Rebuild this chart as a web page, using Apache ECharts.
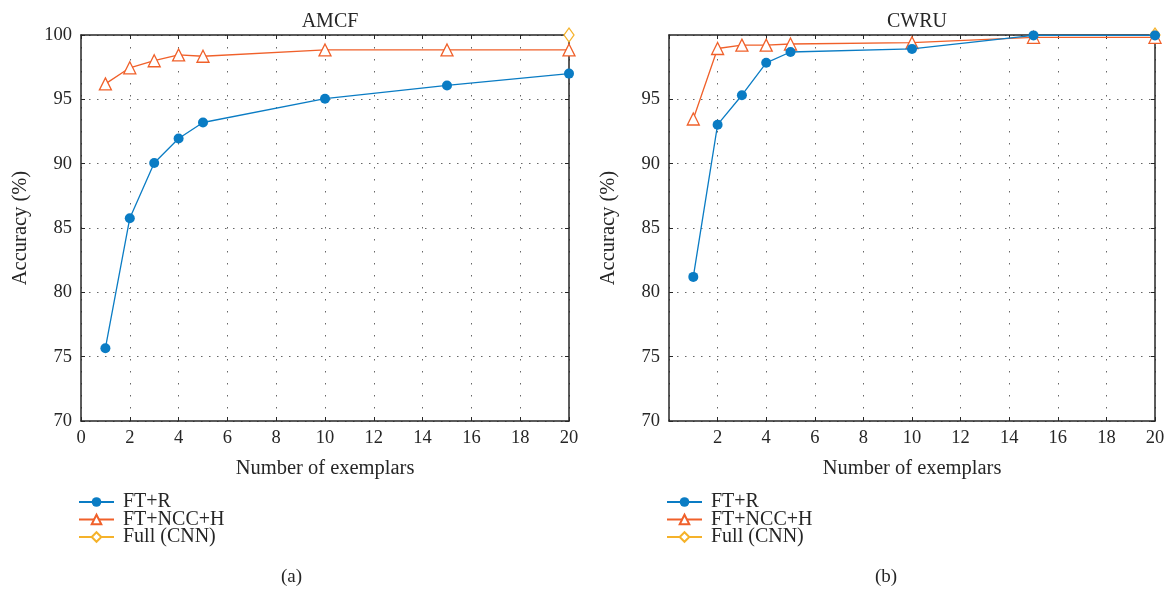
<!DOCTYPE html>
<html>
<head>
<meta charset="utf-8">
<script src="https://cdn.jsdelivr.net/npm/echarts@6/dist/echarts.min.js"></script>
<style>
  html, body { margin: 0; padding: 0; background: #fff; }
  #box { width: 1174px; height: 590px; }
</style>
</head>
<body>
<div id="box"></div>
<script>
var exemplars = [1, 2, 3, 4, 5, 10, 15, 20];
var seriesNames = ['FT+R', 'FT+NCC+H', 'Full (CNN)'];

var amcfFtR = [75.66, 85.76, 90.05, 91.95, 93.2, 95.05, 96.08, 97.0];
var amcfNcc = [96.2, 97.45, 98.0, 98.45, 98.35, 98.84, 98.84, 98.84];
var amcfFullX = [20];
var amcfFull = [100];

var cwruFtR = [81.2, 93.03, 95.32, 97.84, 98.68, 98.92, 99.97, 99.97];
var cwruNcc = [93.47, 98.95, 99.21, 99.21, 99.3, 99.4, 99.82, 99.82];
var cwruFullX = [20];
var cwruFull = [100];

var blue = '#0a7cc4', orange = '#f0602a', yellow = '#f5b22a';
var ink = '#262626';
var font = 'Liberation Serif';

function pairs(xs, ys) {
	return xs.map(function (x, i) { return [x, ys[i]]; });
}

function xAxisFor(idx, hideZero) {
	return [{
		type: 'value', gridIndex: idx, min: 0, max: 20, interval: 2,
		name: 'Number of exemplars', nameLocation: 'middle', nameGap: 37,
		nameTextStyle: { fontFamily: font, fontSize: 20.5, color: ink },
		axisLine: { show: true, onZero: false, lineStyle: { color: ink, width: 1.5 } },
		axisTick: { show: true, inside: true, length: 4, lineStyle: { color: ink } },
		axisLabel: { fontFamily: font, fontSize: 18.5, color: ink, margin: 8, showMinLabel: !hideZero },
		splitLine: { show: true, lineStyle: { color: '#666', width: 1, type: [1.5, 10.5] } }
	}, {
		type: 'value', gridIndex: idx, min: 0, max: 20, interval: 2, position: 'top',
		axisLine: { show: true, onZero: false, lineStyle: { color: ink, width: 1.5 } },
		axisTick: { show: true, inside: true, length: 4, lineStyle: { color: ink } },
		axisLabel: { show: false }, splitLine: { show: false }
	}];
}

function yAxisFor(idx, hideTop) {
	return [{
		type: 'value', gridIndex: idx, min: 70, max: 100, interval: 5,
		name: 'Accuracy (%)', nameLocation: 'middle', nameGap: 50,
		nameTextStyle: { fontFamily: font, fontSize: 20.5, color: ink },
		axisLine: { show: true, onZero: false, lineStyle: { color: ink, width: 1.5 } },
		axisTick: { show: true, inside: true, length: 4, lineStyle: { color: ink } },
		axisLabel: { fontFamily: font, fontSize: 18.5, color: ink, margin: 9, showMaxLabel: !hideTop },
		splitLine: { show: true, lineStyle: { color: '#666', width: 1, type: [1.5, 6.5] } }
	}, {
		type: 'value', gridIndex: idx, min: 70, max: 100, interval: 5, position: 'right',
		axisLine: { show: true, onZero: false, lineStyle: { color: ink, width: 1.5 } },
		axisTick: { show: true, inside: true, length: 4, lineStyle: { color: ink } },
		axisLabel: { show: false }, splitLine: { show: false }
	}];
}

function seriesFor(idx, ftr, ncc, fullX, full) {
	return [{
		name: seriesNames[2], type: 'line', xAxisIndex: idx * 2, yAxisIndex: idx * 2,
		data: pairs(fullX, full), symbol: 'diamond', symbolSize: [10, 14], clip: false, z: 1,
		lineStyle: { color: yellow, width: 1.5 },
		itemStyle: { color: '#fff', borderColor: yellow, borderWidth: 1.3 }
	}, {
		name: seriesNames[1], type: 'line', xAxisIndex: idx * 2, yAxisIndex: idx * 2,
		data: pairs(exemplars, ncc), symbol: 'triangle', symbolSize: 12, clip: false, z: 2,
		lineStyle: { color: orange, width: 1.3 },
		itemStyle: { color: '#fff', borderColor: orange, borderWidth: 1.3 }
	}, {
		name: seriesNames[0], type: 'line', xAxisIndex: idx * 2, yAxisIndex: idx * 2,
		data: pairs(exemplars, ftr), symbol: 'circle', symbolSize: 10, clip: false, z: 3,
		lineStyle: { color: blue, width: 1.3 },
		itemStyle: { color: blue, borderColor: blue, borderWidth: 0 }
	}];
}

function legendFor(left) {
	return {
		data: seriesNames, orient: 'vertical', left: left, top: 492, padding: 0,
		itemWidth: 35, itemHeight: 12, itemGap: -2.5,
		textStyle: { fontFamily: font, fontSize: 20, color: ink, lineHeight: 17.5, padding: [0, 0, 0, 4] }
	};
}

var chart = echarts.init(document.getElementById('box'));
var option = {
	animation: false,
	title: [
		{ text: 'AMCF', left: 325, top: 7, textAlign: 'center',
		  textStyle: { fontFamily: font, fontSize: 20, fontWeight: 'normal', color: ink } },
		{ text: 'CWRU', left: 912, top: 7, textAlign: 'center',
		  textStyle: { fontFamily: font, fontSize: 20, fontWeight: 'normal', color: ink } }
	],
	grid: [
		{ left: 81, right: 605, top: 35, bottom: 169 },
		{ left: 669, right: 19, top: 35, bottom: 169 }
	],
	xAxis: xAxisFor(0, false).concat(xAxisFor(1, true)),
	yAxis: yAxisFor(0, false).concat(yAxisFor(1, true)),
	legend: [legendFor(78), legendFor(666)],
	series: seriesFor(0, amcfFtR, amcfNcc, amcfFullX, amcfFull)
		.concat(seriesFor(1, cwruFtR, cwruNcc, cwruFullX, cwruFull)),
	graphic: [
		{ type: 'text', left: 281, top: 568, style: { text: '(a)', font: '19px "Liberation Serif"', fill: ink } },
		{ type: 'text', left: 875, top: 568, style: { text: '(b)', font: '19px "Liberation Serif"', fill: ink } }
	]
};
chart.setOption(option);
</script>
</body>
</html>
